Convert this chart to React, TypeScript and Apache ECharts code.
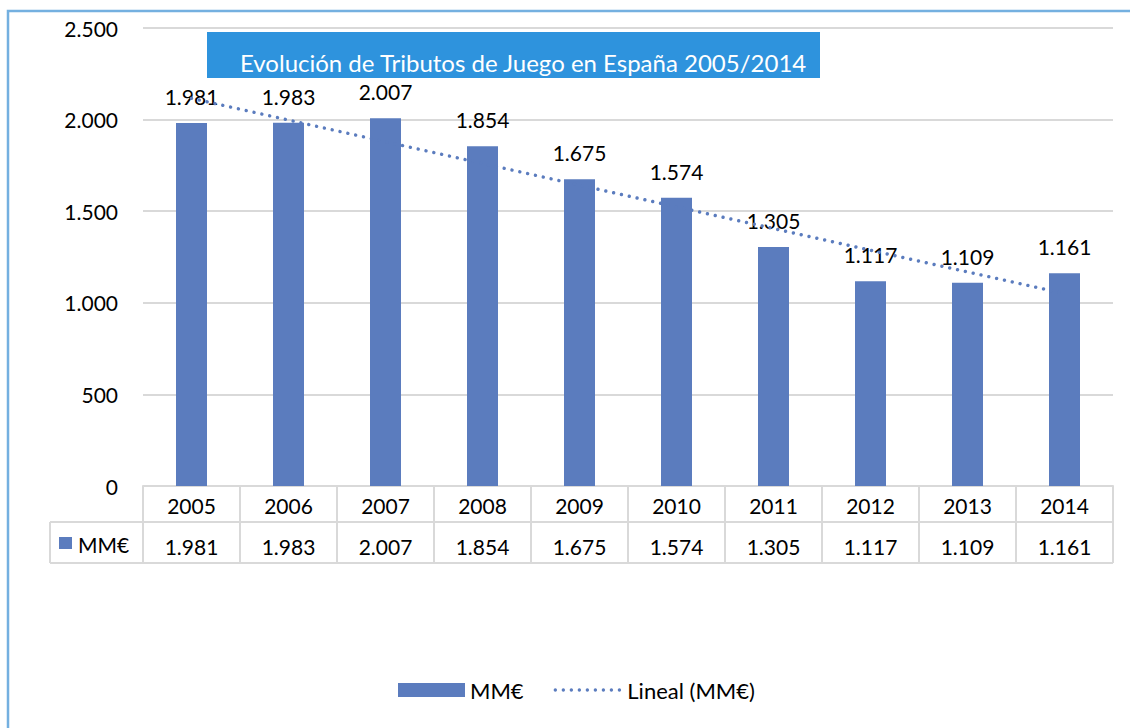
import React, { useEffect, useRef } from "react";
import * as echarts from "echarts";

const years = ["2005", "2006", "2007", "2008", "2009", "2010", "2011", "2012", "2013", "2014"];
const values = [1981, 1983, 2007, 1854, 1675, 1574, 1305, 1117, 1109, 1161];
// linear trend: start (2005) and end (2014)
const trend = [2116, null, null, null, null, null, null, null, null, 1050];
const yTicks = { min: 0, max: 2500, interval: 500 };

const seriesName = "MM€";
const trendName = "Lineal (MM€)";
const titleText = "Evolución de Tributos de Juego en España 2005/2014";

const fmt = (v: number) => String(v).replace(/\B(?=(\d{3})+(?!\d))/g, ".");

const FONT = "Lato";
const FS = 21;
const BAR = "#5b7cbe";
const GRID_LINE = "#d9d9d9";
const DOTS = { color: BAR, width: 3.4, type: [0.01, 8], cap: "round" };

export default function App() {
  const ref = useRef<HTMLDivElement>(null);
  useEffect(() => {
    if (!ref.current) return;
    const chart = echarts.init(ref.current, null, { renderer: "svg" });
    chart.setOption({
      animation: false,
      backgroundColor: "#fff",
      textStyle: { fontFamily: FONT },
      grid: { left: 143, right: 17, top: 28, bottom: 242, containLabel: false },
      legend: {
        top: 674,
        left: 393,
        itemWidth: 67,
        itemHeight: 14,
        itemGap: 30,
        textStyle: { fontFamily: FONT, fontSize: 22, color: "#000" },
        data: [
          { name: seriesName, icon: "rect" },
          { name: trendName, itemStyle: { opacity: 0 }, lineStyle: DOTS },
        ],
      },
      xAxis: [
        {
          type: "category",
          data: years,
          position: "bottom",
          axisLine: { show: true, lineStyle: { color: GRID_LINE, width: 2 } },
          axisTick: { show: true, length: 77, lineStyle: { color: GRID_LINE, width: 2 } },
          axisLabel: { fontFamily: FONT, fontSize: FS, color: "#000", margin: 9 },
        },
        {
          type: "category",
          data: years,
          position: "bottom",
          offset: 41,
          axisLine: { show: false },
          axisTick: { show: false },
          axisLabel: {
            fontFamily: FONT,
            fontSize: FS,
            color: "#000",
            margin: 9,
            formatter: (_v: string, i: number) => fmt(values[i]),
          },
        },
      ],
      yAxis: {
        type: "value",
        min: yTicks.min,
        max: yTicks.max,
        interval: yTicks.interval,
        axisLine: { show: false },
        axisTick: { show: false },
        splitLine: { lineStyle: { color: GRID_LINE, width: 2 } },
        axisLabel: {
          fontFamily: FONT,
          fontSize: FS,
          color: "#000",
          margin: 25,
          formatter: (v: number) => fmt(v),
        },
      },
      series: [
        {
          name: seriesName,
          type: "bar",
          data: values,
          barWidth: 31,
          itemStyle: { color: BAR },
          label: {
            show: true,
            position: "top",
            distance: 16,
            fontFamily: FONT,
            fontSize: FS,
            color: "#000",
            formatter: (p: any) => fmt(p.value),
          },
          z: 2,
        },
        {
          name: trendName,
          type: "line",
          data: trend,
          connectNulls: true,
          symbol: "none",
          z: 5,
          itemStyle: { color: BAR },
          lineStyle: DOTS,
        },
      ],
      graphic: [
        {
          type: "rect",
          shape: { x: 8, y: 11, width: 1200, height: 800 },
          style: { fill: "none", stroke: "#74b0e0", lineWidth: 2.5 },
          silent: true,
        },
        {
          type: "rect",
          shape: { x: 207, y: 32, width: 613, height: 46 },
          style: { fill: "#2e93dd" },
          z: 10,
        },
        {
          type: "text",
          x: 240,
          y: 62,
          style: {
            text: titleText,
            fill: "#fff",
            font: `24px ${FONT}`,
            verticalAlign: "middle",
          },
          z: 11,
        },
        {
          type: "line",
          shape: { x1: 50, y1: 522, x2: 1113, y2: 522 },
          style: { stroke: GRID_LINE, lineWidth: 2 },
        },
        {
          type: "line",
          shape: { x1: 50, y1: 563, x2: 1113, y2: 563 },
          style: { stroke: GRID_LINE, lineWidth: 2 },
        },
        {
          type: "line",
          shape: { x1: 50, y1: 522, x2: 50, y2: 563 },
          style: { stroke: GRID_LINE, lineWidth: 2 },
        },
        {
          type: "rect",
          shape: { x: 59, y: 537, width: 13, height: 12 },
          style: { fill: BAR },
        },
        {
          type: "text",
          x: 78,
          y: 544,
          style: {
            text: seriesName,
            fill: "#000",
            font: `${FS}px ${FONT}`,
            verticalAlign: "middle",
          },
        },
      ],
    });
    return () => chart.dispose();
  }, []);
  return (
    <div
      ref={ref}
      style={{ position: "fixed", left: 0, top: 0, width: 1130, height: 728 }}
    />
  );
}
